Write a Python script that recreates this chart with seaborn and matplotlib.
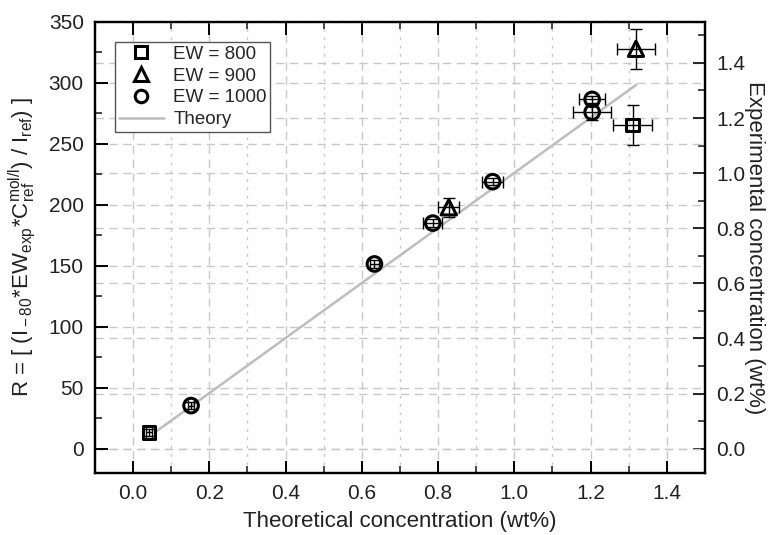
import numpy as np
import matplotlib
matplotlib.use("Agg")
import matplotlib.pyplot as plt
from matplotlib.ticker import MultipleLocator
from matplotlib.lines import Line2D
import seaborn as sns

sns.set_style("ticks")
plt.rcParams['font.family'] = ['Liberation Sans', 'DejaVu Sans']
plt.rcParams['mathtext.fontset'] = 'custom'
plt.rcParams['mathtext.rm'] = 'Liberation Sans'
plt.rcParams['mathtext.it'] = 'Liberation Sans:italic'

# Datos
ew800_x = [0.042, 1.310]
ew800_y = [13.3, 265.6]
ew800_xerr = [0.008, 0.050]
ew800_yerr = [3.0, 16.3]

ew900_x = [0.828, 1.319]
ew900_y = [198.0, 328.0]
ew900_xerr = [0.027, 0.050]
ew900_yerr = [8.0, 16.2]

ew1000_x = [0.152, 0.633, 0.786, 0.943, 1.204, 1.204]
ew1000_y = [35.3, 151.5, 185.0, 219.0, 286.5, 276.0]
ew1000_xerr = [0.008, 0.012, 0.025, 0.028, 0.035, 0.050]
ew1000_yerr = [3.0, 3.0, 3.0, 3.0, 3.0, 6.0]

theory_x = [0.058, 1.320]
theory_y = [13.5, 298.5]

factor = 226.0  # R por wt%

fig = plt.figure(figsize=(7.76, 5.35), dpi=100)
ax = fig.add_axes([0.1224, 0.1159, 0.7861, 0.843])

# Linea teorica
sns.lineplot(x=theory_x, y=theory_y, color='#bdbdbd', linewidth=1.8, ax=ax, zorder=2)

series = [
    (ew800_x, ew800_y, ew800_xerr, ew800_yerr, 's', 9),
    (ew900_x, ew900_y, ew900_xerr, ew900_yerr, '^', 11),
    (ew1000_x, ew1000_y, ew1000_xerr, ew1000_yerr, 'o', 10.5),
]
for x, y, xe, ye, m, s in series:
    ax.errorbar(x, y, xerr=xe, yerr=ye, fmt='none', ecolor='black',
                elinewidth=1.0, capsize=4, capthick=1.0, zorder=3)
    sns.scatterplot(x=x, y=y, marker=m, s=s**2, facecolors='none',
                    edgecolor='black', linewidth=2.2, ax=ax, zorder=4)

ax.set_xlim(-0.1, 1.5)
ax.set_ylim(-20, 350)
ax.xaxis.set_minor_locator(MultipleLocator(0.1))
ax.yaxis.set_minor_locator(MultipleLocator(25))
ax.set_xticks(np.arange(0, 1.41, 0.2))
ax.set_xticklabels([f"{v:.1f}" for v in np.arange(0, 1.41, 0.2)])
ax.set_yticks(np.arange(0, 351, 50))

ax.grid(which='major', axis='both', color='#c8c8c8', linestyle=(0, (6, 4)), linewidth=1.0)
ax.grid(which='minor', axis='x', color='#c8c8c8', linestyle=(0, (2, 4)), linewidth=1.0)
ax.set_axisbelow(True)

ax.tick_params(which='major', direction='in', length=9, width=1.4, labelsize=15,
               top=True, pad=8, colors='black', labelcolor='#222222')
ax.tick_params(which='minor', direction='in', length=5, width=1.2, top=True)
ax.tick_params(axis='y', which='both', right=False)
for sp in ax.spines.values():
    sp.set_linewidth(1.6)
    sp.set_color('black')

ax.set_xlabel('Theoretical concentration (wt%)', fontsize=16, labelpad=6, color='#222222')
ax.set_ylabel(r'R = [ (I$_{\rm -80}$*EW$_{\rm exp}$*C$_{\rm ref}^{\rm mol/l}$) / I$_{\rm ref}$) ]',
              fontsize=16, labelpad=8, color='#222222')

# Eje derecho
ax2 = ax.twinx()
ax2.set_ylim(-20 / factor, 350 / factor)
ax2.yaxis.set_minor_locator(MultipleLocator(0.1))
ax2.set_yticks(np.arange(0, 1.41, 0.2))
ax2.set_yticklabels([f"{v:.1f}" for v in np.arange(0, 1.41, 0.2)])
ax2.grid(which='major', axis='y', color='#c8c8c8', linestyle=(0, (6, 4)), linewidth=1.0)
ax2.tick_params(which='major', direction='in', length=9, width=1.4, labelsize=15, pad=8,
                labelcolor='#222222')
ax2.tick_params(which='minor', direction='in', length=5, width=1.2)
ax2.set_ylabel('Experimental concentration (wt%)', fontsize=16, rotation=270,
               labelpad=14, color='#222222')
for sp in ax2.spines.values():
    sp.set_linewidth(1.6)
ax.set_zorder(ax2.get_zorder() + 1)
ax.patch.set_visible(False)

handles = [
    Line2D([], [], marker='s', ls='none', mfc='none', mec='black', mew=2.2, ms=8),
    Line2D([], [], marker='^', ls='none', mfc='none', mec='black', mew=2.2, ms=10),
    Line2D([], [], marker='o', ls='none', mfc='none', mec='black', mew=2.2, ms=9),
    Line2D([], [], color='#bdbdbd', lw=1.8),
]
labels = ['EW = 800', 'EW = 900', 'EW = 1000', 'Theory']
leg = ax.legend(handles, labels, loc='upper left', bbox_to_anchor=(0.033, 0.956),
                fontsize=13.5, frameon=True, fancybox=False, edgecolor='#555555',
                framealpha=1, handlelength=2.4, handletextpad=0.5, labelspacing=0.25,
                borderpad=0.2, borderaxespad=0)
leg.get_frame().set_linewidth(1.0)

plt.savefig('out.png', dpi=100)
